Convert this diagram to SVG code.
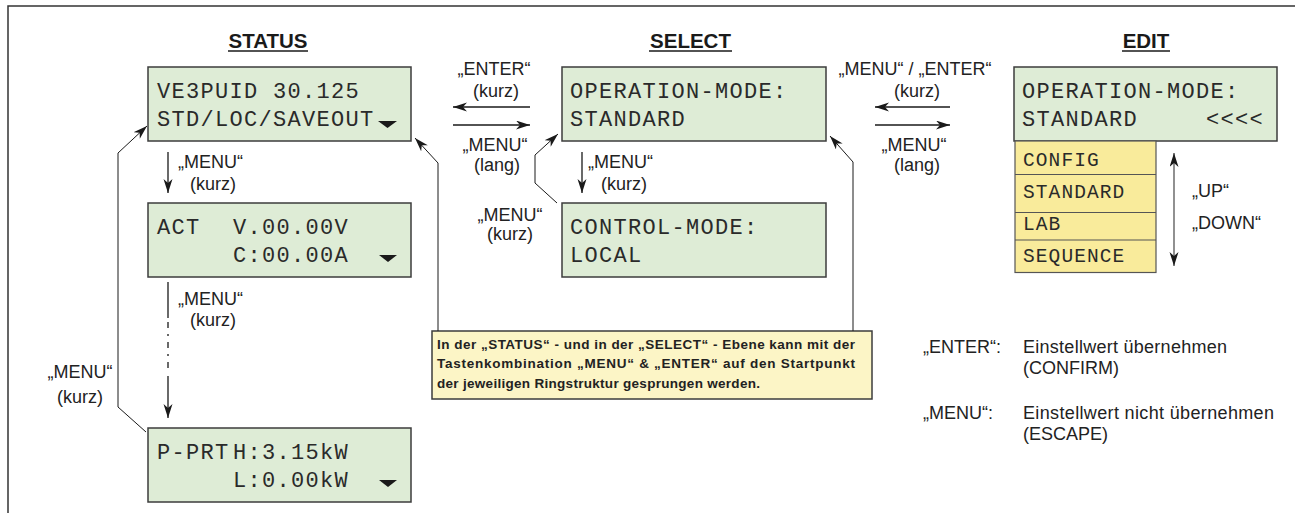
<svg xmlns="http://www.w3.org/2000/svg" width="1295" height="513" viewBox="0 0 1295 513">
<style>
.frame{fill:none;stroke:#333;stroke-width:1.5}
.h{font-family:"Liberation Sans",Arial,sans-serif;font-weight:bold;font-size:20.5px;fill:#1a1a1a;text-anchor:middle}
.ul{stroke:#1a1a1a;stroke-width:1.3}
.lcd{fill:#deecd6;stroke:#3c3c3c;stroke-width:1.5}
.mono{font-family:"Liberation Mono","DejaVu Sans Mono",monospace;font-size:22px;letter-spacing:1.3px;fill:#2a2a2a}
.mono2{font-family:"Liberation Mono","DejaVu Sans Mono",monospace;font-size:19.5px;letter-spacing:1.1px;fill:#2a2a2a}
.lbl{font-family:"Liberation Sans",Arial,sans-serif;font-size:18px;fill:#222}
.c{text-anchor:middle}
.tri{fill:#1a1a1a}
.sel{fill:#f9eb9b;stroke:#555;stroke-width:1.2}
.info{fill:#fcf5c6;stroke:#3c3c3c;stroke-width:1.5}
.infot{font-family:"Liberation Sans",Arial,sans-serif;font-weight:bold;font-size:13.5px;fill:#222}
.ln{fill:none;stroke:#1a1a1a;stroke-width:1.3}
.thin{fill:none;stroke:#1a1a1a;stroke-width:1}
.gray{fill:none;stroke:#555;stroke-width:1.3}
</style>
<defs>
<marker id="ah" markerUnits="userSpaceOnUse" markerWidth="15" markerHeight="10" refX="14" refY="4.5" orient="auto"><path d="M0,0 L14,4.5 L0,9 L4,4.5 z" fill="#1a1a1a"/></marker>
<marker id="ahg" markerUnits="userSpaceOnUse" markerWidth="15" markerHeight="10" refX="14" refY="4.5" orient="auto-start-reverse"><path d="M0,0 L14,4.5 L0,9 L4,4.5 z" fill="#1a1a1a"/></marker>
</defs>
<rect width="1295" height="513" fill="#fff"/>
<path class="frame" d="M8,513 V6 H1295"/>

<g id="headings">
<text class="h" x="268" y="48">STATUS</text>
<line class="ul" x1="228" y1="51" x2="308" y2="51"/>
<text class="h" x="690.5" y="48">SELECT</text>
<line class="ul" x1="649" y1="51" x2="732" y2="51"/>
<text class="h" x="1146" y="48">EDIT</text>
<line class="ul" x1="1122" y1="51" x2="1170" y2="51"/>
</g>

<g id="status-main">
<rect class="lcd" x="148" y="67" width="263" height="74"/>
<text class="mono" x="157" y="98">VE3PUID 30.125</text>
<text class="mono" x="157" y="126">STD/LOC/SAVEOUT</text>
<polygon class="tri" points="378,121 397,121 387.5,128"/>
</g>

<g id="status-act">
<rect class="lcd" x="148" y="203" width="263" height="74"/>
<text class="mono" x="157" y="234">ACT</text>
<text class="mono" x="233" y="234">V.00.00V</text>
<text class="mono" x="233" y="262">C:00.00A</text>
<polygon class="tri" points="379,255 397,255 388,262"/>
</g>

<g id="status-pprt">
<rect class="lcd" x="148" y="428" width="263" height="74"/>
<text class="mono" x="157" y="459">P-PRT</text>
<text class="mono" x="233" y="459">H:3.15kW</text>
<text class="mono" x="233" y="487">L:0.00kW</text>
<polygon class="tri" points="379,480 397,480 388,487"/>
</g>

<g id="select-operation">
<rect class="lcd" x="562" y="67" width="264" height="74"/>
<text class="mono" x="570" y="98">OPERATION-MODE:</text>
<text class="mono" x="570" y="126">STANDARD</text>
</g>

<g id="select-control">
<rect class="lcd" x="562" y="203" width="264" height="74"/>
<text class="mono" x="570" y="234">CONTROL-MODE:</text>
<text class="mono" x="570" y="262">LOCAL</text>
</g>

<g id="edit-operation">
<rect class="lcd" x="1014" y="67" width="263" height="74"/>
<text class="mono" x="1022" y="98">OPERATION-MODE:</text>
<text class="mono" x="1022" y="126">STANDARD</text>
<text class="mono" x="1206" y="126">&lt;&lt;&lt;&lt;</text>
</g>

<g id="edit-list">
<rect class="sel" x="1015" y="141" width="141" height="131.5"/>
<line class="sel" x1="1015" y1="174.5" x2="1156" y2="174.5"/>
<line class="sel" x1="1015" y1="212.5" x2="1156" y2="212.5"/>
<line class="sel" x1="1015" y1="240" x2="1156" y2="240"/>
<text class="mono2" x="1023" y="166">CONFIG</text>
<text class="mono2" x="1023" y="198">STANDARD</text>
<text class="mono2" x="1023" y="230">LAB</text>
<text class="mono2" x="1023" y="262">SEQUENCE</text>
</g>

<g id="info">
<rect class="info" x="432" y="331" width="440" height="68"/>
<text class="infot" x="437" y="349" textLength="418" lengthAdjust="spacing">In der „STATUS“ - und in der „SELECT“ - Ebene kann mit der</text>
<text class="infot" x="437" y="368" textLength="418" lengthAdjust="spacing">Tastenkombination „MENU“ &amp; „ENTER“ auf den Startpunkt</text>
<text class="infot" x="437" y="388" textLength="323" lengthAdjust="spacing">der jeweiligen Ringstruktur gesprungen werden.</text>
</g>

<g id="legend">
<text class="lbl" x="923" y="353">„ENTER“:</text>
<text class="lbl" x="1023" y="353" textLength="204" lengthAdjust="spacing">Einstellwert übernehmen</text>
<text class="lbl" x="1023" y="374">(CONFIRM)</text>
<text class="lbl" x="923" y="419">„MENU“:</text>
<text class="lbl" x="1023" y="419" textLength="251" lengthAdjust="spacing">Einstellwert nicht übernehmen</text>
<text class="lbl" x="1023" y="440">(ESCAPE)</text>
</g>

<g id="connectors">
<path class="ln" d="M168,152 V193" marker-end="url(#ah)"/>
<path class="ln" d="M168,282 V318"/>
<path class="ln" d="M168,322 V372" stroke-dasharray="6,6,2,6"/>
<path class="ln" d="M168,376 V418" marker-end="url(#ah)"/>
<path class="thin" d="M146,432 L118,407 V153 L147,126" marker-end="url(#ah)"/>
<path class="thin" d="M438,331 V163 L415,138" marker-end="url(#ah)"/>
<path class="ln" d="M530,107 H453" marker-end="url(#ah)"/>
<path class="ln" d="M453,125 H530" marker-end="url(#ah)"/>
<path class="ln" d="M582,152 V193" marker-end="url(#ah)"/>
<path class="thin" d="M557,203 L535,183 V155 L558,134" marker-end="url(#ah)"/>
<path class="thin" d="M853,331 V162 L830,136" marker-end="url(#ah)"/>
<path class="ln" d="M950,107 H875" marker-end="url(#ah)"/>
<path class="ln" d="M875,125 H950" marker-end="url(#ah)"/>
<path class="gray" d="M1174,153 V266" marker-start="url(#ahg)" marker-end="url(#ahg)"/>
<g class="lbl">
<text x="178" y="168">„MENU“</text>
<text x="190" y="190">(kurz)</text>
<text x="178" y="305">„MENU“</text>
<text x="190" y="326">(kurz)</text>
<text class="c" x="80" y="378">„MENU“</text>
<text class="c" x="80" y="403">(kurz)</text>
<text class="c" x="494" y="75">„ENTER“</text>
<text class="c" x="496" y="97">(kurz)</text>
<text class="c" x="495" y="151">„MENU“</text>
<text class="c" x="497" y="171">(lang)</text>
<text x="588" y="168">„MENU“</text>
<text x="601" y="190">(kurz)</text>
<text class="c" x="510" y="221">„MENU“</text>
<text class="c" x="510" y="240">(kurz)</text>
<text class="c" x="915" y="75">„MENU“ / „ENTER“</text>
<text class="c" x="917" y="97">(kurz)</text>
<text class="c" x="914" y="151">„MENU“</text>
<text class="c" x="917" y="171">(lang)</text>
<text x="1192" y="197">„UP“</text>
<text x="1192" y="229">„DOWN“</text>
</g>
</g>
</svg>
